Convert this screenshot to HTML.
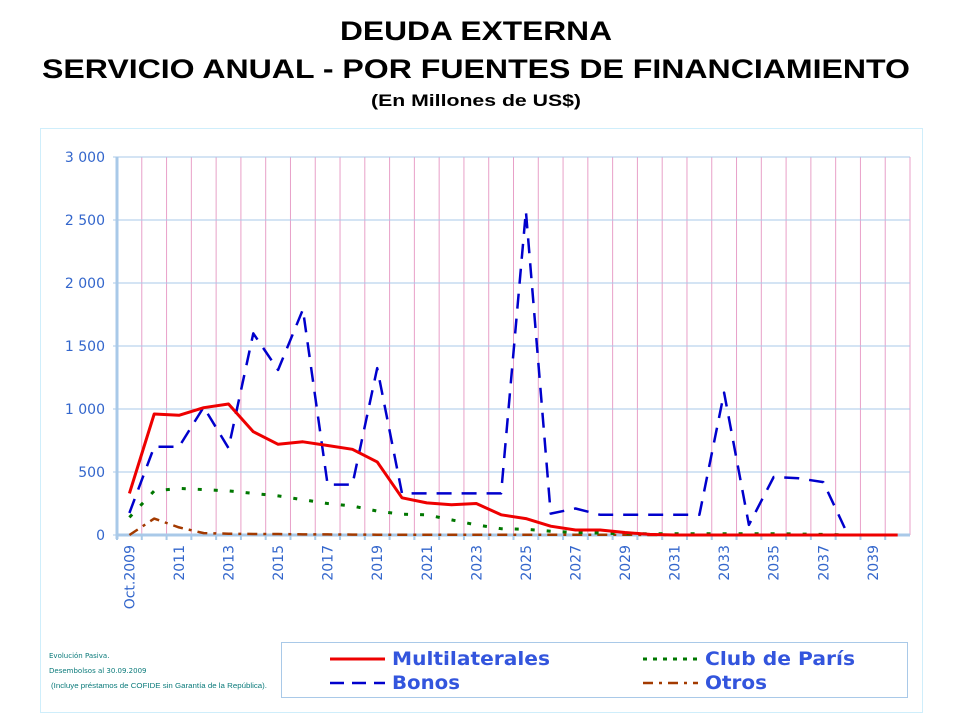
<!DOCTYPE html>
<html><head><meta charset="utf-8"><style>
body{margin:0;background:#fff;font-family:"Liberation Sans",sans-serif}
</style></head><body>
<svg width="960" height="720" xmlns="http://www.w3.org/2000/svg">
<text x="476" y="40" text-anchor="middle" font-size="27" font-weight="bold" textLength="272" lengthAdjust="spacingAndGlyphs">DEUDA EXTERNA</text>
<text x="476" y="78" text-anchor="middle" font-size="27" font-weight="bold" textLength="868" lengthAdjust="spacingAndGlyphs">SERVICIO ANUAL - POR FUENTES DE FINANCIAMIENTO</text>
<text x="476" y="106" text-anchor="middle" font-size="17" font-weight="bold" textLength="210" lengthAdjust="spacingAndGlyphs">(En Millones de US$)</text>
<rect x="40.5" y="128.5" width="882" height="584" fill="none" stroke="#cfeefb"/>
<g id="plot"></g>
<text x="49" y="658" font-size="7" fill="#0a7a7a" font-family="DejaVu Sans">Evolución Pasiva.</text>
<text x="49" y="673" font-size="7" fill="#0a7a7a" font-family="DejaVu Sans">Desembolsos al 30.09.2009</text>
<text x="51" y="688" font-size="7" fill="#0a7a7a" textLength="216" lengthAdjust="spacingAndGlyphs">(Incluye préstamos de COFIDE sin Garantía de la República).</text>
<g font-family="DejaVu Sans">
<rect x="281.5" y="642.5" width="626" height="55" fill="#fff" stroke="#a9c9e8"/>
<line x1="330" y1="659" x2="385" y2="659" stroke="#e00" stroke-width="3"/>
<text x="392" y="665" font-size="19" font-weight="bold" fill="#3355dd" textLength="158" lengthAdjust="spacingAndGlyphs">Multilaterales</text>
<line x1="330" y1="683" x2="385" y2="683" stroke="#00c" stroke-width="2.5" stroke-dasharray="14,8"/>
<text x="392" y="689" font-size="19" font-weight="bold" fill="#3355dd" textLength="68" lengthAdjust="spacingAndGlyphs">Bonos</text>
<line x1="643" y1="659" x2="698" y2="659" stroke="#070" stroke-width="3" stroke-dasharray="4,6"/>
<text x="705" y="665" font-size="19" font-weight="bold" fill="#3355dd" textLength="150" lengthAdjust="spacingAndGlyphs">Club de París</text>
<line x1="643" y1="683" x2="698" y2="683" stroke="#a33a00" stroke-width="2.5" stroke-dasharray="10,6,3,6"/>
<text x="705" y="689" font-size="19" font-weight="bold" fill="#3355dd" textLength="62" lengthAdjust="spacingAndGlyphs">Otros</text>
</g>
</svg>
<script>
const categories=["Oct.2009"];for(let y=2010;y<=2040;y++)categories.push(String(y));
const multilaterales=[330,960,950,1010,1040,820,720,740,710,680,580,295,255,240,250,160,130,70,40,40,20,5,0,0,0,0,0,0,0,0,0,0];
const bonos=[175,700,700,1015,690,1600,1310,1790,400,400,1325,330,330,330,330,330,2570,170,210,160,160,160,160,160,1130,80,460,450,420,0,0,0];
const clubParis=[140,350,370,360,350,330,310,280,250,230,190,165,160,120,80,50,45,30,20,15,10,10,10,10,10,10,10,8,5,0,0,0];
const otros=[0,130,60,15,10,8,8,5,5,3,2,2,2,2,2,2,2,2,2,2,2,0,0,0,0,0,0,0,0,0,0,0];
const yTicks=[0,500,1000,1500,2000,2500,3000];
const yTickLabels=["0","500","1 000","1 500","2 000","2 500","3 000"];
const NS="http://www.w3.org/2000/svg";
const L=117,R=910,T=157,B=535,N=categories.length,step=(R-L)/N;
const xs=i=>L+step*(i+0.5);
const ys=v=>B-(v/3000)*(B-T);
const g=document.getElementById('plot');
function mk(t,a){const e=document.createElementNS(NS,t);for(const k in a)e.setAttribute(k,a[k]);g.appendChild(e);return e;}
for(let i=1;i<=N;i++){const e=mk('line',{x1:L+step*i,x2:L+step*i,y1:T,y2:B,stroke:'#e8a0c8','stroke-width':1});

}
yTicks.forEach((v,k)=>{const e=mk('line',{x1:L-4,x2:R,y1:ys(v),y2:ys(v),stroke:'#a9c9e8','stroke-width':1});


const t=mk('text',{x:L-12,y:ys(v)+5,'text-anchor':'end','font-size':14,fill:'#3366cc','font-family':'DejaVu Sans'});t.textContent=yTickLabels[k];

});
let ax=mk('line',{x1:L,x2:L,y1:T,y2:B+4,stroke:'#a9c9e8','stroke-width':3});


let bx=mk('line',{x1:L,x2:R,y1:B,y2:B,stroke:'#a9c9e8','stroke-width':3});


categories.forEach((c,i)=>{const tk=mk('line',{x1:L+step*i,x2:L+step*i,y1:B,y2:B+5,stroke:'#a9c9e8','stroke-width':2});


if(i%2===0){const x=xs(i)+5;const t=mk('text',{x:x,y:B+10,'text-anchor':'end','font-size':14,fill:'#3366cc','font-family':'DejaVu Sans',transform:`rotate(-90 ${x} ${B+10})`});t.textContent=c;

}});
function series(d,color,w,dash,name){const p=d.map((v,i)=>(i?'L':'M')+xs(i).toFixed(1)+','+ys(v).toFixed(1)).join('');
const e=mk('path',{d:p,fill:'none',stroke:color,'stroke-width':w,'stroke-dasharray':dash,'stroke-linejoin':'round'});

}
series(otros,'#a33a00',2.5,'10,6,3,6','otros-line');
series(clubParis,'#070',3,'4,12','club-paris-line');
series(bonos,'#00c',2.5,'15,10','bonos-line');
series(multilaterales,'#e00',3,'none','multilaterales-line');
</script>
</body></html>
